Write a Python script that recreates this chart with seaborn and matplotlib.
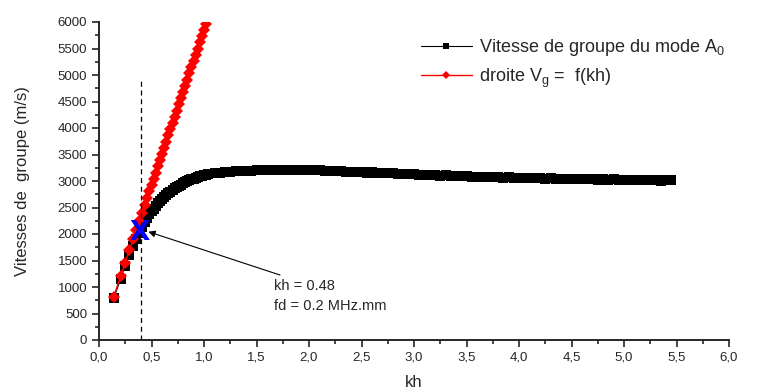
import numpy as np
import pandas as pd
import matplotlib
matplotlib.use("Agg")
import matplotlib.pyplot as plt
import seaborn as sns
from matplotlib.ticker import MultipleLocator, FuncFormatter

# kh values shared by both series at the start (sampling gets denser)
kh_low = [0.14, 0.207, 0.248, 0.29, 0.325, 0.355, 0.383, 0.41, 0.435, 0.458,
          0.48, 0.50, 0.52, 0.54, 0.56, 0.58, 0.60, 0.62, 0.64, 0.66,
          0.68, 0.70, 0.72, 0.74, 0.76, 0.78, 0.80, 0.82, 0.84, 0.86,
          0.88, 0.90, 0.92, 0.94, 0.96, 0.98, 1.00, 1.02, 1.04]

# group velocity of A0 mode (m/s) on kh_low
vg_a0_low = [790, 1150, 1400, 1600, 1770, 1900, 2010, 2130, 2220, 2300,
             2370, 2430, 2480, 2530, 2580, 2620, 2660, 2700, 2735, 2770,
             2800, 2830, 2860, 2885, 2910, 2930, 2955, 2975, 2995, 3010,
             3030, 3045, 3060, 3075, 3088, 3100, 3110, 3120, 3128]

# rest of the A0 curve
kh_high = [1.10, 1.15, 1.20, 1.25, 1.30, 1.35, 1.40, 1.45, 1.50, 1.55,
           1.60, 1.65, 1.70, 1.75, 1.80, 1.85, 1.90, 1.95, 2.00, 2.05,
           2.10, 2.15, 2.20, 2.25, 2.30, 2.35, 2.40, 2.45, 2.50, 2.55,
           2.60, 2.65, 2.70, 2.75, 2.80, 2.85, 2.90, 2.95, 3.00, 3.05,
           3.10, 3.15, 3.20, 3.25, 3.30, 3.35, 3.40, 3.45, 3.50, 3.55,
           3.60, 3.65, 3.70, 3.75, 3.80, 3.85, 3.90, 3.95, 4.00, 4.05,
           4.10, 4.15, 4.20, 4.25, 4.30, 4.35, 4.40, 4.45, 4.50, 4.55,
           4.60, 4.65, 4.70, 4.75, 4.80, 4.85, 4.90, 4.95, 5.00, 5.05,
           5.10, 5.15, 5.20, 5.25, 5.30, 5.35, 5.40, 5.45]
vg_a0_high = [3145, 3155, 3168, 3172, 3182, 3185, 3192, 3195, 3200, 3202,
              3208, 3207, 3212, 3210, 3214, 3210, 3211, 3204, 3206, 3200,
              3199, 3193, 3191, 3186, 3185, 3178, 3176, 3170, 3169, 3160,
              3161, 3153, 3152, 3145, 3142, 3136, 3134, 3128, 3126, 3118,
              3120, 3110, 3112, 3103, 3104, 3096, 3097, 3090, 3092, 3083,
              3084, 3078, 3079, 3072, 3074, 3066, 3068, 3060, 3062, 3055,
              3058, 3050, 3053, 3046, 3049, 3042, 3045, 3037, 3041, 3033,
              3037, 3029, 3034, 3025, 3031, 3022, 3029, 3018, 3026, 3015,
              3023, 3012, 3020, 3010, 3018, 3008, 3016, 3010]

# straight line Vg = f(kh), read on kh_low
vg_line = [819, 1211, 1451, 1697, 1901, 2077, 2241, 2399, 2545, 2679,
           2808, 2925, 3042, 3159, 3276, 3393, 3510, 3627, 3744, 3861,
           3978, 4095, 4212, 4329, 4446, 4563, 4680, 4797, 4914, 5031,
           5148, 5265, 5382, 5499, 5616, 5733, 5850, 5967, 6084]

mark_kh, mark_vg = 0.385, 2020
dash_kh, dash_top = 0.40, 4900
arrow_tip = (0.47, 2043)
arrow_tail = (1.724, 1226)
note_kh, note_vg1, note_vg2 = 1.667, 1019, 642

a0 = pd.DataFrame({"kh": kh_low + kh_high, "vg": vg_a0_low + vg_a0_high})
line = pd.DataFrame({"kh": kh_low, "vg": vg_line})

sns.set_style("ticks")
plt.rcParams["font.family"] = ["Liberation Sans", "DejaVu Sans"]
plt.rcParams["mathtext.fontset"] = "custom"
plt.rcParams["mathtext.rm"] = "Liberation Sans"

fig = plt.figure(figsize=(7.82, 3.92), dpi=100)
ax = fig.add_axes([99 / 782, 52 / 392, 630 / 782, 318 / 392])

sns.lineplot(data=a0, x="kh", y="vg", ax=ax, color="black", lw=0.8,
             marker="s", markersize=6.5, markeredgewidth=0,
             label=r"Vitesse de groupe du mode A$\mathregular{_0}$")
sns.lineplot(data=line, x="kh", y="vg", ax=ax, color="red", lw=1,
             marker="D", markersize=6, markeredgewidth=0,
             label=r"droite V$\mathregular{_g}$ =  f(kh)")

ax.vlines(dash_kh, 0, dash_top, colors="black", linestyles=(0, (4, 3)), lw=0.9)
ax.text(mark_kh, mark_vg, "X", color="blue", fontsize=19, fontweight="bold",
        ha="center", va="center", family="DejaVu Sans")
ax.annotate("", xy=arrow_tip, xytext=arrow_tail,
            arrowprops=dict(arrowstyle="-|>", color="black", lw=0.8,
                            mutation_scale=10, shrinkA=0, shrinkB=0))
ax.text(note_kh, note_vg1, "kh = 0.48", fontsize=10.5, va="center")
ax.text(note_kh, note_vg2, "fd = 0.2 MHz.mm", fontsize=10.5, va="center")

ax.set_xlim(0, 6)
ax.set_ylim(0, 6000)
ax.xaxis.set_major_locator(MultipleLocator(0.5))
ax.xaxis.set_minor_locator(MultipleLocator(0.25))
ax.yaxis.set_major_locator(MultipleLocator(500))
ax.yaxis.set_minor_locator(MultipleLocator(250))
ax.xaxis.set_major_formatter(FuncFormatter(lambda v, p: f"{v:.1f}".replace(".", ",")))
ax.tick_params(which="major", direction="out", length=5, width=1.2, labelsize=9.5)
ax.tick_params(which="minor", direction="out", length=3, width=1.2)
for s in ["top", "right"]:
    ax.spines[s].set_visible(False)
for s in ["left", "bottom"]:
    ax.spines[s].set_linewidth(1.4)

ax.set_xlabel("kh", fontsize=12, labelpad=8)
ax.set_ylabel("Vitesses de  groupe (m/s)", fontsize=12, labelpad=20)

ax.legend(loc="upper left", bbox_to_anchor=(0.497, 0.98), frameon=False,
          fontsize=13, handlelength=2.8, handletextpad=0.4, borderpad=0,
          labelspacing=0.45, markerscale=0.75)

fig.savefig("out.png", dpi=100)
